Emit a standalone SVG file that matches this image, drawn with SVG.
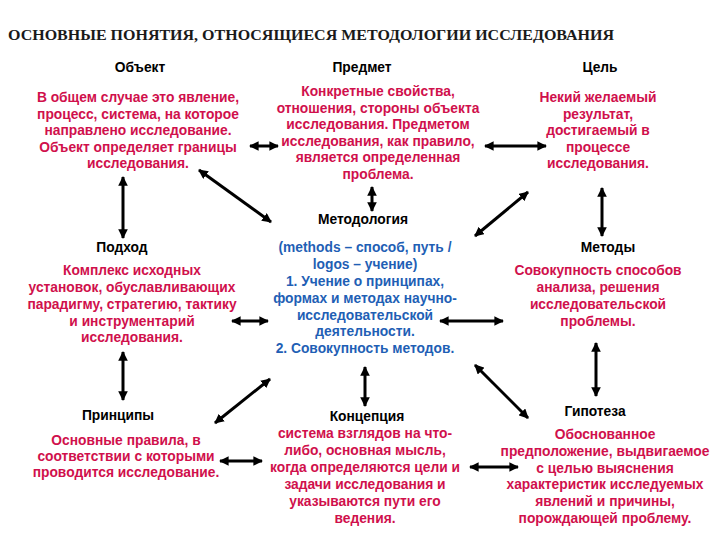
<svg xmlns="http://www.w3.org/2000/svg" width="720" height="540" viewBox="0 0 720 540">
<defs>
<marker id="ah" viewBox="0 0 10 10" refX="9" refY="5" markerWidth="3.2" markerHeight="3.2" orient="auto-start-reverse" markerUnits="strokeWidth">
<path d="M0,0 L10,5 L0,10 z" fill="#000"/>
</marker>
<style>
.title{font-family:"Liberation Serif","Times New Roman",serif;font-weight:bold;font-size:15px;fill:#1a1a1a}
.h{font-family:"Liberation Sans",Arial,sans-serif;font-weight:bold;font-size:13.8px;fill:#000;text-anchor:middle}
.r{font-family:"Liberation Sans",Arial,sans-serif;font-weight:bold;font-size:13.8px;fill:#d0104c;text-anchor:middle}
.b{font-family:"Liberation Sans",Arial,sans-serif;font-weight:bold;font-size:13.8px;fill:#1f5fb5;text-anchor:middle}
.c line{stroke:#000;stroke-width:3;marker-start:url(#ah);marker-end:url(#ah)}
</style>
</defs>
<rect width="720" height="540" fill="#fff"/>
<text class="title" x="8" y="40" textLength="606" lengthAdjust="spacingAndGlyphs">ОСНОВНЫЕ ПОНЯТИЯ, ОТНОСЯЩИЕСЯ МЕТОДОЛОГИИ ИССЛЕДОВАНИЯ</text>

<g id="obekt">
<text class="h" x="140" y="72">Объект</text>
<text class="r" x="138" y="102">В общем случае это явление,</text>
<text class="r" x="138" y="118.5">процесс, система, на которое</text>
<text class="r" x="138" y="135">направлено исследование.</text>
<text class="r" x="138" y="151.5">Объект определяет границы</text>
<text class="r" x="138" y="168">исследования.</text>
</g>

<g id="predmet">
<text class="h" x="362" y="72">Предмет</text>
<text class="r" x="378" y="96">Конкретные свойства,</text>
<text class="r" x="378" y="112.5">отношения, стороны объекта</text>
<text class="r" x="378" y="129">исследования. Предметом</text>
<text class="r" x="378" y="145.5">исследования, как правило,</text>
<text class="r" x="378" y="162">является определенная</text>
<text class="r" x="378" y="178.5">проблема.</text>
</g>

<g id="cel">
<text class="h" x="600" y="72">Цель</text>
<text class="r" x="598" y="102">Некий желаемый</text>
<text class="r" x="598" y="118.5">результат,</text>
<text class="r" x="598" y="135">достигаемый в</text>
<text class="r" x="598" y="151.5">процессе</text>
<text class="r" x="598" y="168">исследования.</text>
</g>

<g id="metodologiya">
<text class="h" x="363" y="224">Методология</text>
<text class="b" x="365" y="252">(methods – способ, путь /</text>
<text class="b" x="365" y="269">logos – учение)</text>
<text class="b" x="365" y="286">1. Учение о принципах,</text>
<text class="b" x="365" y="303">формах и методах научно-</text>
<text class="b" x="365" y="319.5">исследовательской</text>
<text class="b" x="365" y="336">деятельности.</text>
<text class="b" x="365" y="353">2. Совокупность методов.</text>
</g>

<g id="podhod">
<text class="h" x="122" y="252">Подход</text>
<text class="r" x="132" y="275">Комплекс исходных</text>
<text class="r" x="132" y="292">установок, обуславливающих</text>
<text class="r" x="132" y="309">парадигму, стратегию, тактику</text>
<text class="r" x="132" y="325.5">и инструментарий</text>
<text class="r" x="132" y="342">исследования.</text>
</g>

<g id="metody">
<text class="h" x="608" y="252">Методы</text>
<text class="r" x="598" y="275">Совокупность способов</text>
<text class="r" x="598" y="292">анализа, решения</text>
<text class="r" x="598" y="309">исследовательской</text>
<text class="r" x="598" y="325.5">проблемы.</text>
</g>

<g id="principy">
<text class="h" x="118" y="420">Принципы</text>
<text class="r" x="126" y="445">Основные правила, в</text>
<text class="r" x="126" y="461">соответствии с которыми</text>
<text class="r" x="126" y="477">проводится исследование.</text>
</g>

<g id="koncepciya">
<text class="h" x="367" y="421">Концепция</text>
<text class="r" x="365" y="438">система взглядов на что-</text>
<text class="r" x="365" y="455">либо, основная мысль,</text>
<text class="r" x="365" y="472">когда определяются цели и</text>
<text class="r" x="365" y="489">задачи исследования и</text>
<text class="r" x="365" y="506">указываются пути его</text>
<text class="r" x="365" y="523">ведения.</text>
</g>

<g id="gipoteza">
<text class="h" x="595" y="416">Гипотеза</text>
<text class="r" x="605" y="439">Обоснованное</text>
<text class="r" x="605" y="456">предположение, выдвигаемое</text>
<text class="r" x="605" y="472.5">с целью выяснения</text>
<text class="r" x="605" y="489">характеристик исследуемых</text>
<text class="r" x="605" y="506">явлений и причины,</text>
<text class="r" x="605" y="523">порождающей проблему.</text>
</g>

<g id="connectors" class="c">
<line x1="250" y1="146" x2="278" y2="146"/>
<line x1="485" y1="146" x2="546" y2="146"/>
<line x1="123" y1="177" x2="123" y2="238"/>
<line x1="199" y1="170" x2="271" y2="222"/>
<line x1="372" y1="187" x2="372" y2="211"/>
<line x1="528" y1="192" x2="475" y2="236"/>
<line x1="602" y1="188" x2="602" y2="236"/>
<line x1="232" y1="321" x2="268" y2="321"/>
<line x1="440" y1="321" x2="503" y2="321"/>
<line x1="123" y1="352" x2="123" y2="400"/>
<line x1="215" y1="423" x2="270" y2="379"/>
<line x1="220" y1="461" x2="262" y2="461"/>
<line x1="365" y1="367" x2="365" y2="406"/>
<line x1="475" y1="365" x2="528" y2="418"/>
<line x1="596" y1="343" x2="596" y2="396"/>
<line x1="470" y1="467" x2="518" y2="467"/>
</g>
</svg>
